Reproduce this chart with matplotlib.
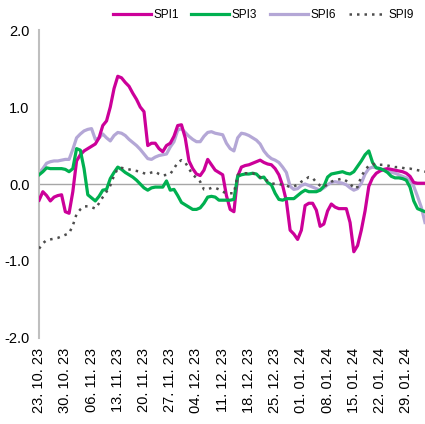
import numpy as np
import pandas as pd
import matplotlib
matplotlib.use("Agg")
import matplotlib.pyplot as plt
import matplotlib.dates as mdates

plt.rcParams['font.family'] = ['Liberation Sans', 'DejaVu Sans']

# daily SPI values, 23.10.2023 - 03.02.2024
start_date = "2023-10-23"

spi1 = [-0.21, -0.1, -0.15, -0.22, -0.17, -0.15, -0.14, -0.36, -0.38, -0.1,
        0.3, 0.38, 0.43, 0.46, 0.49, 0.52, 0.6, 0.76, 0.82, 1.0,
        1.24, 1.4, 1.38, 1.32, 1.27, 1.18, 1.1, 1.0, 0.94, 0.5,
        0.53, 0.53, 0.46, 0.42, 0.5, 0.53, 0.62, 0.76, 0.77, 0.6,
        0.3, 0.2, 0.13, 0.11, 0.18, 0.32, 0.25, 0.18, 0.15, 0.12,
        -0.15, -0.33, -0.36, 0.1, 0.22, 0.24, 0.25, 0.27, 0.29, 0.31,
        0.28, 0.26, 0.25, 0.2, 0.12, -0.02, -0.22, -0.6, -0.65, -0.72,
        -0.6, -0.28, -0.25, -0.25, -0.34, -0.55, -0.52, -0.35, -0.26, -0.3,
        -0.32, -0.32, -0.32, -0.5, -0.88, -0.8, -0.6, -0.35, -0.03, 0.08,
        0.14, 0.17, 0.19, 0.2, 0.19, 0.18, 0.17, 0.16, 0.14, 0.1,
        0.02, 0.01, 0.01, 0.01]

spi3 = [0.12, 0.16, 0.21, 0.2, 0.2, 0.2, 0.2, 0.19, 0.16, 0.2,
        0.46, 0.44, 0.2, -0.14, -0.18, -0.22, -0.16, -0.08, -0.07, 0.07,
        0.15, 0.22, 0.19, 0.15, 0.12, 0.09, 0.05, 0.0, -0.05, -0.08,
        -0.05, -0.04, -0.04, -0.04, 0.04, -0.08, -0.07, -0.15, -0.24, -0.27,
        -0.3, -0.33, -0.33, -0.31, -0.25, -0.17, -0.16, -0.17, -0.21, -0.21,
        -0.21, -0.21, -0.2, 0.1, 0.12, 0.13, 0.13, 0.14, 0.13, 0.08,
        0.09, 0.02, -0.01, -0.12, -0.2, -0.21, -0.19, -0.19, -0.19, -0.15,
        -0.11, -0.08, -0.1, -0.1, -0.1, -0.08, -0.03, 0.09, 0.13, 0.14,
        0.15, 0.16, 0.14, 0.13, 0.16, 0.23, 0.3, 0.38, 0.43, 0.28,
        0.21, 0.2, 0.18, 0.15, 0.1, 0.08, 0.08, 0.07, 0.05, -0.04,
        -0.22, -0.32, -0.34, -0.36]

spi6 = [0.14, 0.2, 0.27, 0.29, 0.3, 0.3, 0.31, 0.32, 0.32, 0.45,
        0.6, 0.65, 0.69, 0.71, 0.72, 0.58, 0.6, 0.65, 0.6, 0.56,
        0.63, 0.67, 0.66, 0.63, 0.58, 0.54, 0.5, 0.45, 0.39, 0.33,
        0.32, 0.35, 0.37, 0.38, 0.39, 0.48, 0.55, 0.7, 0.72, 0.67,
        0.62, 0.58, 0.55, 0.55, 0.62, 0.67, 0.68, 0.66, 0.65, 0.64,
        0.53, 0.46, 0.43, 0.6, 0.66, 0.65, 0.63, 0.6, 0.57, 0.52,
        0.43, 0.37, 0.33, 0.31, 0.28, 0.22, 0.15, -0.03, -0.07, -0.06,
        -0.02, 0.0, -0.02, -0.04, -0.06, -0.08, -0.05, -0.01, 0.02, 0.03,
        0.02, 0.01, -0.01, -0.05, -0.08, -0.06, 0.01, 0.13, 0.2, 0.22,
        0.21, 0.2, 0.18, 0.17, 0.15, 0.14, 0.12, 0.1, 0.08, 0.05,
        -0.03, -0.16, -0.3, -0.5]

spi9 = [-0.84, -0.77, -0.73, -0.72, -0.71, -0.7, -0.68, -0.66, -0.64, -0.54,
        -0.39, -0.33, -0.29, -0.29, -0.3, -0.32, -0.25, -0.17, -0.1, -0.02,
        0.11, 0.2, 0.21, 0.2, 0.19, 0.18, 0.17, 0.16, 0.14, 0.13,
        0.15, 0.16, 0.13, 0.11, 0.12, 0.13, 0.2, 0.28, 0.31, 0.28,
        0.2, 0.12, 0.08, 0.03, -0.07, -0.07, -0.05, -0.05, -0.07, -0.1,
        -0.12, -0.12, -0.12, 0.12, 0.13, 0.14, 0.14, 0.14, 0.12, 0.09,
        0.07, 0.04, 0.01, 0.0, 0.0, -0.01, -0.02, -0.04, -0.03, -0.01,
        0.03, 0.06, 0.09, 0.08, 0.02, -0.02, -0.04, 0.0, 0.03, 0.05,
        0.06, 0.07, 0.04, 0.01, -0.06, -0.04, 0.1, 0.18, 0.24, 0.26,
        0.25, 0.25, 0.25, 0.24, 0.23, 0.22, 0.22, 0.21, 0.2, 0.2,
        0.19, 0.18, 0.17, 0.16]

dates = pd.date_range(start_date, periods=len(spi1), freq="D")
tick_dates = pd.date_range(start_date, "2024-01-29", freq="7D")

fig = plt.figure(figsize=(4.25, 4.24), dpi=100)
ax = fig.add_axes([0.092, 0.203, 0.908, 0.726])

ax.axhline(0, color="#a6a6a6", lw=1.0, zorder=1)
ax.plot(dates, spi1, color="#cc0099", lw=2.3, label="SPI1", zorder=3)
ax.plot(dates, spi3, color="#00b050", lw=2.3, label="SPI3", zorder=3)
ax.plot(dates, spi6, color="#b4a7d6", lw=2.3, label="SPI6", zorder=2)
ax.plot(dates, spi9, color="#4d4d4d", lw=1.8, ls=(0, (1, 2)), label="SPI9", zorder=4)

ax.set_ylim(-2, 2)
ax.set_yticks([-2, -1, 0, 1, 2])
ax.set_yticklabels(["-2.0", "-1.0", "0.0", "1.0", "2.0"])
ax.set_xlim(dates[0], dates[-1])
ax.set_xticks(tick_dates)
ax.xaxis.set_major_formatter(mdates.DateFormatter("%d. %m. %y"))
ax.tick_params(axis="x", length=0, pad=7, labelsize=10.5, rotation=90)
ax.tick_params(axis="y", length=0, pad=7, labelsize=10.5)

for s in ["top", "right", "bottom"]:
    ax.spines[s].set_visible(False)
ax.spines["left"].set_color("#bfbfbf")
ax.spines["left"].set_linewidth(1.5)

ax.legend(loc="center", bbox_to_anchor=(0.62, 0.965), bbox_transform=fig.transFigure,
          ncol=4, frameon=False, fontsize=8.5, handlelength=3.2, columnspacing=1.1,
          handletextpad=0.2, borderaxespad=0)

fig.savefig("out.png", dpi=100)
